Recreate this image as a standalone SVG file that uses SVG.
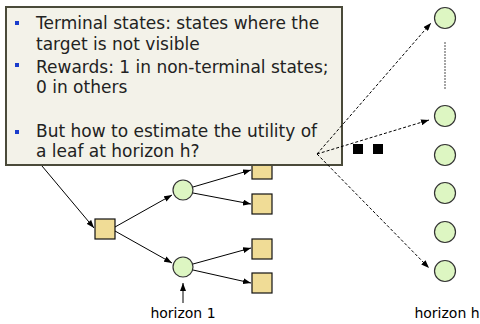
<svg xmlns="http://www.w3.org/2000/svg" width="480" height="324" viewBox="0 0 480 324">
<defs>
<marker id="ah" markerWidth="8" markerHeight="6" refX="8" refY="3" orient="auto" markerUnits="userSpaceOnUse"><path d="M0,0 L8,3 L0,6 z" fill="#000"/></marker>
<style>
.sq{fill:#f0dc96;stroke:#111;stroke-width:1.2}
.ci{fill:#ddf6c2;stroke:#333;stroke-width:1.2}
.ln{stroke:#000;stroke-width:1;fill:none}
.dl{stroke:#000;stroke-width:1;fill:none;stroke-dasharray:3,2}
.bx{fill:#f3f2e9;stroke:#4a4a3a;stroke-width:2}
.tx{font-family:"DejaVu Sans",Verdana,sans-serif;font-size:17px;fill:#222}
.lb{font-family:"DejaVu Sans",Verdana,sans-serif;font-size:14px;fill:#000}
.bu{fill:#1a3ccc}
</style>
</defs>
<rect width="480" height="324" fill="#fff"/>
<g id="root"><rect class="sq" x="95" y="219" width="20" height="20"/></g>
<g id="c1"><circle class="ci" cx="183" cy="190" r="10"/></g>
<g id="c2"><circle class="ci" cx="183" cy="267" r="10"/></g>
<g id="l1"><rect class="sq" x="252" y="159" width="20" height="20"/></g>
<g id="l2"><rect class="sq" x="252" y="194" width="20" height="20"/></g>
<g id="l3"><rect class="sq" x="252" y="239" width="20" height="20"/></g>
<g id="l4"><rect class="sq" x="252" y="273" width="20" height="20"/></g>
<g id="h1"><circle class="ci" cx="445" cy="18" r="10.5"/></g>
<g id="h2"><circle class="ci" cx="445" cy="116" r="10.5"/></g>
<g id="h3"><circle class="ci" cx="445" cy="155" r="10.5"/></g>
<g id="h4"><circle class="ci" cx="445" cy="193" r="10.5"/></g>
<g id="h5"><circle class="ci" cx="445" cy="232" r="10.5"/></g>
<g id="h6"><circle class="ci" cx="445" cy="271" r="10.5"/></g>
<g id="dots">
<rect x="353" y="144" width="10" height="10" fill="#000"/>
<rect x="373" y="144" width="10" height="10" fill="#000"/>
</g>
<g id="callout">
<rect class="bx" x="6" y="7" width="336" height="158"/>
<rect class="bu" x="15" y="21" width="4" height="4"/>
<rect class="bu" x="15" y="63" width="4" height="4"/>
<rect class="bu" x="15" y="130" width="4" height="4"/>
<text class="tx" x="36" y="29">Terminal states: states where the</text>
<text class="tx" x="36" y="50">target is not visible</text>
<text class="tx" x="36" y="73">Rewards: 1 in non-terminal states;</text>
<text class="tx" x="36" y="93">0 in others</text>
<text class="tx" x="36" y="137">But how to estimate the utility of</text>
<text class="tx" x="36" y="157">a leaf at horizon h?</text>
</g>
<g id="connectors">
<line class="ln" x1="42" y1="166" x2="94" y2="228" marker-end="url(#ah)"/>
<line class="ln" x1="115" y1="227" x2="172" y2="195" marker-end="url(#ah)"/>
<line class="ln" x1="115" y1="231" x2="172" y2="263" marker-end="url(#ah)"/>
<line class="ln" x1="193" y1="187" x2="251" y2="170" marker-end="url(#ah)"/>
<line class="ln" x1="193" y1="193" x2="251" y2="204" marker-end="url(#ah)"/>
<line class="ln" x1="193" y1="264" x2="251" y2="248" marker-end="url(#ah)"/>
<line class="ln" x1="193" y1="270" x2="251" y2="283" marker-end="url(#ah)"/>
<line class="ln" x1="183" y1="303" x2="183" y2="283" marker-end="url(#ah)"/>
<line class="dl" x1="317" y1="154" x2="431" y2="23" marker-end="url(#ah)"/>
<line class="dl" x1="317" y1="154" x2="429" y2="120" marker-end="url(#ah)"/>
<line class="dl" x1="317" y1="154" x2="429" y2="268" marker-end="url(#ah)"/>
<line x1="445" y1="42" x2="445" y2="90" stroke="#888" stroke-width="1.5" stroke-dasharray="2,1"/>
</g>
<g id="labels">
<text class="lb" x="183" y="318" text-anchor="middle">horizon 1</text>
<text class="lb" x="447" y="318" text-anchor="middle">horizon h</text>
</g>
</svg>
